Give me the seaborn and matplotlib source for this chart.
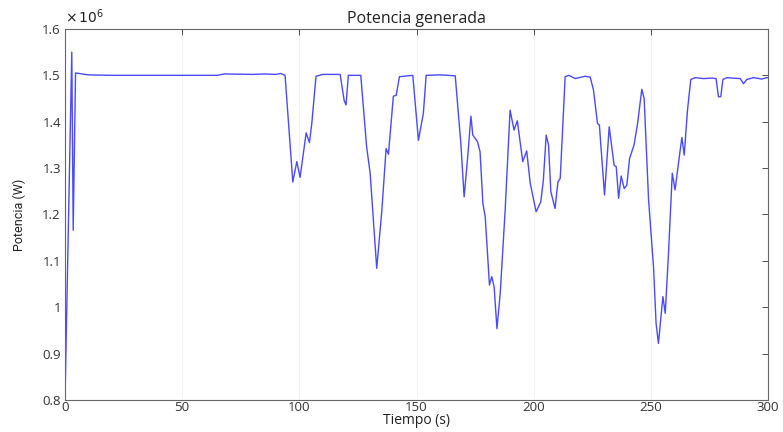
import matplotlib
matplotlib.use("Agg")
import matplotlib.pyplot as plt
import seaborn as sns
import pandas as pd
from matplotlib.ticker import FuncFormatter

# Time (s) and generated power (x 10^6 W)
tiempo = [0, 2.9, 3.5, 4.5, 6, 10, 20, 40, 65, 68, 80, 85, 90, 92, 93.9,
          97.2, 98.9, 100.3, 102.9, 104.3, 105.3, 107.1, 110, 117.4, 119.1, 119.9, 120.9, 126.2,
          128.7, 130.2, 133.0, 135.2, 137.0, 138.0, 139.0, 140.1, 141.3, 142.7,
          148.4, 150.8, 152.9, 154.1, 160, 166.5,
          168.9, 170.3, 171.7, 173.2, 174.0, 176.0, 177.1, 178.3, 179.3, 181.1, 182.1, 183.1,
          184.3, 185.7, 187.8, 189.9, 191.6, 193.0, 195.3, 197.0, 198.5, 201.0, 203.0, 204.1,
          205.3, 206.3, 207.3, 209.1, 210.3, 211.3, 213.4, 215, 217.7, 221.9, 224.1, 225.5,
          227.2, 228.0, 230.2, 232.2, 234.3, 235.2, 236.2, 237.3, 238.6, 239.7, 240.9, 242.8,
          244.3, 246.1, 247.1, 249.0, 251.1, 252.2, 253.2, 255.1, 256.1, 257.5, 259.1, 260.3,
          262.2, 263.2, 264.2, 265.6, 267.0, 268.9, 272.4, 276.0, 277.8, 278.8, 279.8, 280.7,
          282.4, 285, 288.1, 289.5, 290.9, 293.8, 297.3, 299.4, 300]
potencia = [0.80, 1.55, 1.166, 1.505, 1.504, 1.501, 1.500, 1.500, 1.500, 1.503, 1.502, 1.503, 1.502, 1.504, 1.500,
            1.270, 1.314, 1.280, 1.376, 1.355, 1.396, 1.498, 1.502, 1.502, 1.446, 1.436, 1.500, 1.500,
            1.346, 1.289, 1.084, 1.209, 1.342, 1.330, 1.389, 1.455, 1.457, 1.497,
            1.500, 1.360, 1.418, 1.500, 1.501, 1.499,
            1.353, 1.238, 1.317, 1.412, 1.371, 1.357, 1.335, 1.224, 1.195, 1.048, 1.066, 1.044,
            0.954, 1.030, 1.209, 1.425, 1.382, 1.402, 1.314, 1.337, 1.267, 1.206, 1.227, 1.274,
            1.371, 1.350, 1.249, 1.213, 1.270, 1.278, 1.497, 1.500, 1.493, 1.498, 1.496, 1.468,
            1.396, 1.393, 1.242, 1.389, 1.306, 1.303, 1.235, 1.283, 1.256, 1.263, 1.321, 1.350,
            1.396, 1.470, 1.450, 1.231, 1.087, 0.965, 0.922, 1.023, 0.987, 1.116, 1.289, 1.253,
            1.328, 1.366, 1.328, 1.425, 1.491, 1.495, 1.493, 1.494, 1.493, 1.454, 1.454, 1.491,
            1.495, 1.494, 1.493, 1.482, 1.491, 1.495, 1.492, 1.495, 1.495]

x_ticks = [0, 50, 100, 150, 200, 250, 300]
y_ticks = [0.8, 0.9, 1.0, 1.1, 1.2, 1.3, 1.4, 1.5, 1.6]

df = pd.DataFrame({"t": tiempo, "p": potencia})

sns.set_style("white")
plt.rcParams["font.family"] = ["Open Sans", "DejaVu Sans"]

fig = plt.figure(figsize=(7.83, 4.32), dpi=100)
ax = fig.add_axes([0.083, 0.074, 0.898, 0.859])

sns.lineplot(data=df, x="t", y="p", ax=ax, color="#4a4aff", linewidth=1.0)

ax.set_xlim(0, 300)
ax.set_ylim(0.8, 1.6)
ax.set_xticks(x_ticks)
ax.set_yticks(y_ticks)
ax.yaxis.set_major_formatter(FuncFormatter(lambda v, p: "%g" % round(v, 2)))
ax.tick_params(direction="in", top=True, right=True, length=4, width=0.6,
               labelsize=9.5, colors="#333333")
ax.tick_params(axis="x", pad=1)
ax.tick_params(axis="y", pad=3)
for s in ax.spines.values():
    s.set_color("#666666")
    s.set_linewidth(0.8)
ax.grid(axis="x", color="#f2f2f2", linewidth=0.8)

ax.set_title("Potencia generada", fontsize=11.5, color="#222222", pad=4)
ax.set_xlabel("Tiempo (s)", fontsize=10, color="#222222")
ax.xaxis.set_label_coords(0.5, -0.036)
ax.set_ylabel("Potencia (W)", fontsize=9, color="#222222", labelpad=12,
              family=["Liberation Sans Narrow", "Roboto", "DejaVu Sans"])
ax.text(0.0, 1.005, r"$\times\,10^{6}$", transform=ax.transAxes, fontsize=10,
        color="#222222", ha="left", va="bottom")

fig.savefig("out.png", dpi=100, facecolor="white")
